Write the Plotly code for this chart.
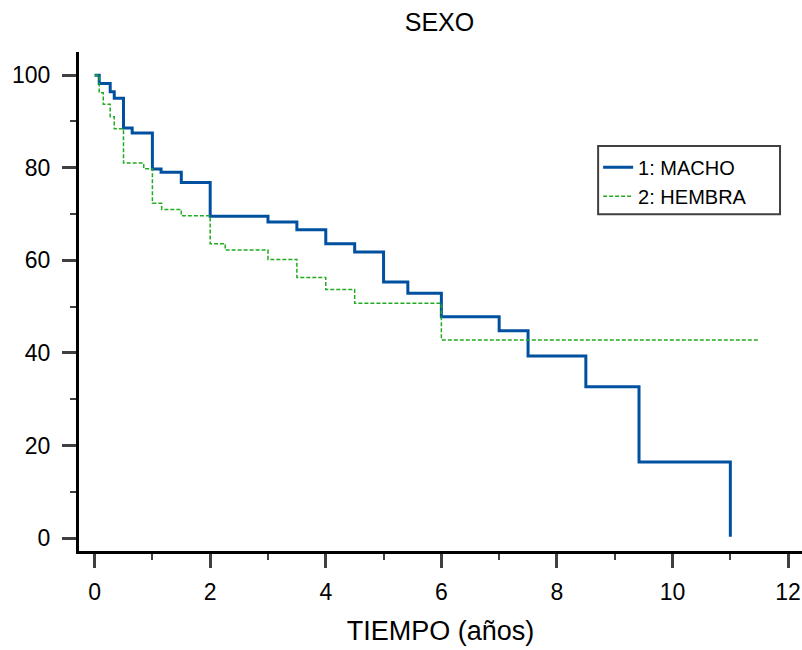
import plotly.graph_objects as go

# Kaplan-Meier step data (time in years, survival %)
macho_t = [0, 0.08, 0.27, 0.34, 0.5, 0.65, 1.0, 1.15, 1.5, 2.0, 3.0, 3.5, 4.0, 4.5,
           5.0, 5.42, 6.0, 7.0, 7.5, 8.5, 9.42, 11.0]
macho_s = [100, 98.2, 96.4, 95.0, 88.6, 87.5, 79.7, 79.0, 76.8, 69.5, 68.3, 66.6, 63.6, 61.8,
           55.3, 52.9, 47.8, 44.8, 39.3, 32.7, 16.4, 0.3]

hembra_t = [0, 0.08, 0.15, 0.27, 0.34, 0.5, 0.85, 1.0, 1.16, 1.5, 2.0, 2.26, 3.0, 3.5,
            4.0, 4.5, 6.0, 11.5]
hembra_s = [100, 96.2, 93.7, 91.0, 88.4, 81.0, 79.8, 72.3, 71.0, 69.6, 63.6, 62.2, 60.2, 56.3,
            53.7, 50.7, 42.8, 42.8]

series_names = ["1: MACHO", "2: HEMBRA"]
x_ticks = [0, 2, 4, 6, 8, 10, 12]
y_ticks = [0, 20, 40, 60, 80, 100]

FONT = "Liberation Sans, Arial, sans-serif"

fig = go.Figure()
fig.add_trace(go.Scatter(x=macho_t, y=macho_s, mode="lines", line_shape="hv",
                         name=series_names[0], line=dict(color="#0050a0", width=3)))
fig.add_trace(go.Scatter(x=hembra_t, y=hembra_s, mode="lines", line_shape="hv",
                         name=series_names[1], line=dict(color="#22aa22", width=1.5, dash="4px,2px")))

axis_common = dict(showline=True, linecolor="black", linewidth=3, showgrid=False, zeroline=False,
                   ticks="outside", ticklen=14, tickwidth=3, tickcolor="#404040",
                   tickfont=dict(size=23, color="black", family=FONT))

fig.update_xaxes(range=[-0.27, 12.24], tickvals=x_ticks, ticktext=[str(v) for v in x_ticks],
                 ticklabelstandoff=4,
                 minor=dict(ticks="outside", dtick=1, tick0=0, ticklen=6, tickwidth=2, tickcolor="#404040"),
                 title=dict(text="TIEMPO (años)", font=dict(size=27, color="black", family=FONT), standoff=18),
                 **axis_common)
fig.update_yaxes(range=[-2.8, 105], tickvals=y_ticks, ticktext=[str(v) for v in y_ticks],
                 ticklabelstandoff=7,
                 minor=dict(ticks="outside", dtick=10, tick0=0, ticklen=6, tickwidth=2, tickcolor="#404040"),
                 **axis_common)

# legend frame (wider than plotly's auto-sized legend box, as in the reference)
fig.add_shape(type="rect", xref="paper", yref="paper", x0=0.718, x1=0.9696, y0=0.675, y1=0.8116,
              line=dict(color="#404040", width=2), fillcolor="white", layer="above")

fig.update_layout(
    width=802, height=650,
    margin=dict(l=79, r=0, t=52, b=99),
    plot_bgcolor="white", paper_bgcolor="white",
    title=dict(text="SEXO", x=0.548, xanchor="center", y=0.966, yanchor="middle",
               font=dict(size=25, color="black", family=FONT)),
    legend=dict(x=0.718, y=0.808, xanchor="left", yanchor="top",
                bgcolor="rgba(0,0,0,0)", borderwidth=0,
                font=dict(size=20, color="black", family=FONT), tracegroupgap=0),
    font=dict(family=FONT),
)

fig.write_html("out.html")
